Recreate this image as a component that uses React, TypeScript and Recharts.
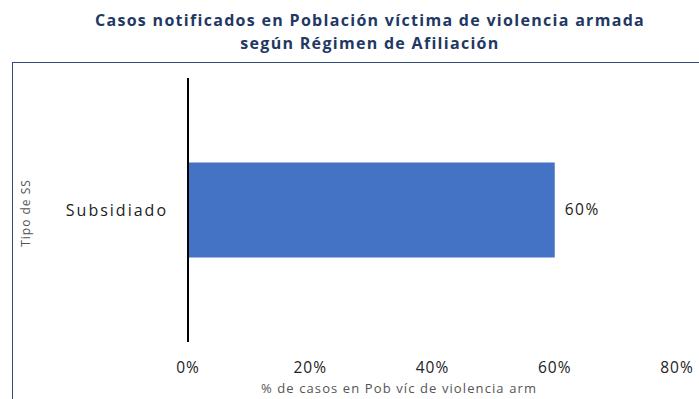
import React from 'react';
import { BarChart, Bar, XAxis, YAxis, LabelList } from 'recharts';

const categories = ['Subsidiado'];
const values = [60];
const xTicks = [0, 20, 40, 60, 80];
const titleLines = ['Casos notificados en Población víctima de violencia armada', 'según Régimen de Afiliación'];
const xAxisTitle = '% de casos en Pob víc de violencia arm';
const yAxisTitle = 'Tipo de SS';

const data = categories.map((c, i) => ({ name: c, value: values[i] }));

const FONT = '"Open Sans", "Noto Sans", sans-serif';

export default function App() {
  return (
    <div style={{ position: 'absolute', left: 0, top: 0, width: 699, height: 399, overflow: 'hidden', background: '#fff', fontFamily: FONT }}>
      {titleLines.map((t, i) => (
        <div key={i} style={{ position: 'absolute', left: 0, width: 740, top: 9 + i * 23, textAlign: 'center', fontSize: 16, letterSpacing: 1.3, fontWeight: 700, color: '#1F3864', lineHeight: '22px', whiteSpace: 'nowrap' }}>{t}</div>
      ))}
      <div style={{ position: 'absolute', left: 12, top: 62, width: 720, height: 400, border: '1.5px solid #2E4A7D', boxSizing: 'border-box' }} />
      <div style={{ position: 'absolute', left: 0, top: 0 }}>
        <BarChart width={699} height={399} data={data} layout="vertical" margin={{ top: 78, right: 22, left: 0, bottom: 17 }} barCategoryGap="32%">
          <XAxis type="number" domain={[0, 80]} ticks={xTicks} tickFormatter={(v) => `${v}%`} axisLine={false} tickLine={false} tickSize={0} tickMargin={20} interval={0}
            tick={{ fill: '#222', fontSize: 15.5, fontFamily: FONT, letterSpacing: 1 }} height={40} />
          <YAxis type="category" dataKey="name" width={188} axisLine={{ stroke: '#000', strokeWidth: 2 }} tickLine={false} tickSize={0} tickMargin={20}
            tick={{ fill: '#222', fontSize: 16, fontFamily: FONT, letterSpacing: 2 }} />
          <Bar dataKey="value" fill="#4472C4" isAnimationActive={false}>
            <LabelList dataKey="value" position="right" offset={10} formatter={(v: number) => `${v}%`} style={{ fill: '#222', fontSize: 15.5, fontFamily: FONT, letterSpacing: 1.5 }} />
          </Bar>
        </BarChart>
      </div>
      <div style={{ position: 'absolute', left: 399 - 200, width: 400, top: 380, textAlign: 'center', fontSize: 13, letterSpacing: 1.1, color: '#555', whiteSpace: 'nowrap', lineHeight: '16px' }}>{xAxisTitle}</div>
      <div style={{ position: 'absolute', left: 26 - 50, top: 213 - 9, width: 100, height: 18, textAlign: 'center', fontSize: 12, letterSpacing: 1, color: '#555', transform: 'rotate(-90deg)', whiteSpace: 'nowrap', lineHeight: '18px' }}>{yAxisTitle}</div>
    </div>
  );
}
